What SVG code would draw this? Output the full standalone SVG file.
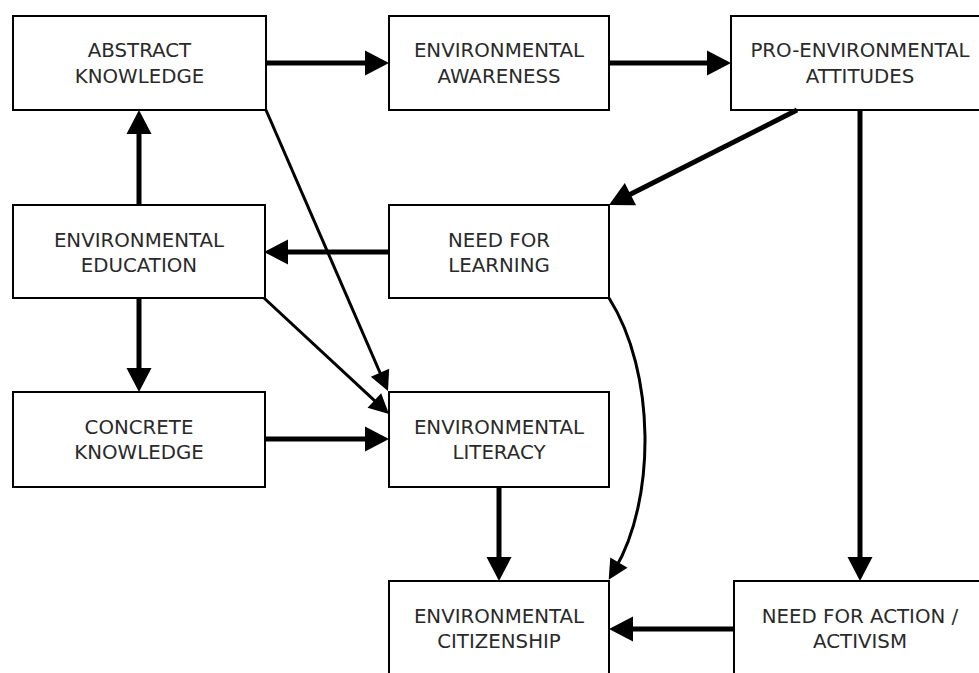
<svg xmlns="http://www.w3.org/2000/svg" width="979" height="673" viewBox="0 0 979 673">
  <style>
    .box { fill: #ffffff; stroke: #000000; stroke-width: 2; }
    .lbl { font-family: "DejaVu Sans", "Liberation Sans", sans-serif; font-size: 19.8px; fill: #2a2a2a; text-anchor: middle; }
    .thick { fill: none; stroke: #000000; stroke-width: 5; marker-end: url(#big); }
    .thin { fill: none; stroke: #000000; stroke-width: 3; marker-end: url(#small); }
  </style>
  <defs>
    <marker id="big" markerUnits="userSpaceOnUse" markerWidth="24" markerHeight="25" refX="10" refY="12.5" orient="auto" overflow="visible">
      <path d="M0,0 L24,12.5 L0,25 Z" fill="#000000"/>
    </marker>
    <marker id="small" markerUnits="userSpaceOnUse" markerWidth="20" markerHeight="20" refX="8" refY="10" orient="auto" overflow="visible">
      <path d="M0,0 L20,10 L0,20 Z" fill="#000000"/>
    </marker>
  </defs>
  <rect width="979" height="673" fill="#ffffff"/>

  <g id="abstract-knowledge">
    <rect class="box" x="13" y="16" width="253" height="94"/>
    <text class="lbl" x="139.5" y="57">ABSTRACT</text>
    <text class="lbl" x="139.5" y="83">KNOWLEDGE</text>
  </g>
  <g id="environmental-awareness">
    <rect class="box" x="389" y="16" width="220" height="94"/>
    <text class="lbl" x="499" y="57">ENVIRONMENTAL</text>
    <text class="lbl" x="499" y="83">AWARENESS</text>
  </g>
  <g id="pro-environmental-attitudes">
    <rect class="box" x="731" y="16" width="258" height="94"/>
    <text class="lbl" x="860" y="57">PRO-ENVIRONMENTAL</text>
    <text class="lbl" x="860" y="83">ATTITUDES</text>
  </g>
  <g id="environmental-education">
    <rect class="box" x="13" y="205" width="252" height="93"/>
    <text class="lbl" x="139" y="246.5">ENVIRONMENTAL</text>
    <text class="lbl" x="139" y="271.5">EDUCATION</text>
  </g>
  <g id="need-for-learning">
    <rect class="box" x="389" y="205" width="220" height="93"/>
    <text class="lbl" x="499" y="246.5">NEED FOR</text>
    <text class="lbl" x="499" y="271.5">LEARNING</text>
  </g>
  <g id="concrete-knowledge">
    <rect class="box" x="13" y="392" width="252" height="95"/>
    <text class="lbl" x="139" y="434">CONCRETE</text>
    <text class="lbl" x="139" y="459">KNOWLEDGE</text>
  </g>
  <g id="environmental-literacy">
    <rect class="box" x="389" y="392" width="220" height="95"/>
    <text class="lbl" x="499" y="434">ENVIRONMENTAL</text>
    <text class="lbl" x="499" y="459">LITERACY</text>
  </g>
  <g id="environmental-citizenship">
    <rect class="box" x="389" y="581" width="220" height="94"/>
    <text class="lbl" x="499" y="623">ENVIRONMENTAL</text>
    <text class="lbl" x="499" y="647.5">CITIZENSHIP</text>
  </g>
  <g id="need-for-action">
    <rect class="box" x="734" y="581" width="256" height="94"/>
    <text class="lbl" x="860" y="623">NEED FOR ACTION /</text>
    <text class="lbl" x="860" y="647.5">ACTIVISM</text>
  </g>

  <g id="connectors">
    <path class="thick" d="M266,63 H375"/>
    <path class="thick" d="M609,63 H717"/>
    <path class="thick" d="M139,205 V124"/>
    <path class="thick" d="M389,252 H278"/>
    <path class="thick" d="M797,110 L621.5,198.7"/>
    <path class="thick" d="M860,110 V567"/>
    <path class="thick" d="M139,298 V378"/>
    <path class="thick" d="M265,439 H375"/>
    <path class="thick" d="M499,487 V567"/>
    <path class="thick" d="M734,629 H623"/>
    <path class="thin" d="M266,110 L383.2,380"/>
    <path class="thin" d="M264,298 L380.2,405.9"/>
    <path class="thin" d="M609,298 C656,372 656,500 614.8,569.5"/>
  </g>
</svg>
